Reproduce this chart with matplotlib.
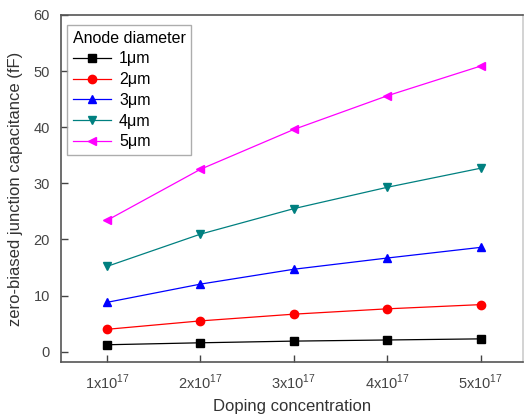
import numpy as np
import matplotlib
matplotlib.use('Agg')
import matplotlib.pyplot as plt

plt.rcParams['font.family'] = ['Liberation Sans', 'DejaVu Sans']
plt.rcParams['mathtext.fontset'] = 'custom'
plt.rcParams['mathtext.rm'] = 'Liberation Sans'

# 数据
doping = np.array([1, 2, 3, 4, 5])
tick_labels = [r'%dx10$^{\mathregular{17}}$' % d for d in doping]
c_1um = [1.25, 1.6, 1.9, 2.1, 2.3]
c_2um = [4.0, 5.5, 6.7, 7.65, 8.4]
c_3um = [8.8, 12.05, 14.7, 16.7, 18.6]
c_4um = [15.2, 20.95, 25.5, 29.3, 32.7]
c_5um = [23.4, 32.5, 39.6, 45.6, 50.9]
labels = ['1μm', '2μm', '3μm', '4μm', '5μm']

fig = plt.figure(figsize=(5.27, 4.15), dpi=100)
ax = fig.add_axes([0.116, 0.128, 0.876, 0.836])

series = [c_1um, c_2um, c_3um, c_4um, c_5um]
colors = ['black', 'red', 'blue', '#008080', '#ff00ff']
markers = ['s', 'o', '^', 'v', '<']
for y, col, m, lab in zip(series, colors, markers, labels):
    ax.plot(doping, y, color=col, marker=m, markersize=6, linewidth=0.9,
            label=lab)

ax.set_xlim(0.51, 5.45)
ax.set_ylim(-1.8, 60)
ax.set_xticks(doping)
ax.set_xticklabels(tick_labels)
ax.set_yticks(np.arange(0, 61, 10))
ax.tick_params(direction='in', length=5, width=1, labelsize=10.5,
               labelcolor='#444444', color='#444444', pad=8)
for s in ax.spines.values():
    s.set_color('#555555')
    s.set_linewidth(1.2)
ax.spines['right'].set_color('#cccccc')

ax.set_xlabel('Doping concentration', fontsize=12, color='#333333', labelpad=5)
ax.set_ylabel('zero-biased junction capacitance (fF)', fontsize=12,
              color='#333333', labelpad=8)

leg = ax.legend(title='Anode diameter', loc='upper left',
                bbox_to_anchor=(0.013, 0.971), borderaxespad=0,
                fancybox=False, edgecolor='#999999', fontsize=11.5,
                title_fontsize=11.5, alignment='left', handlelength=2.4,
                labelspacing=0.36, borderpad=0.35, handletextpad=0.5)
leg.get_frame().set_linewidth(1.0)

plt.savefig('out.png', dpi=100)
